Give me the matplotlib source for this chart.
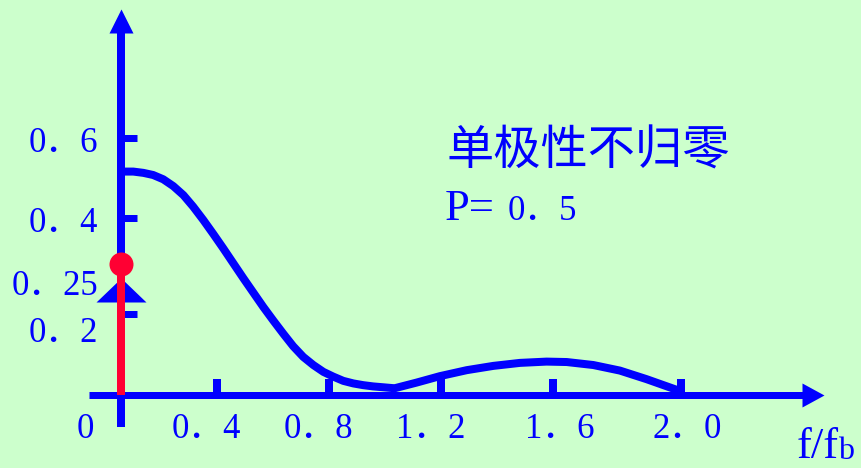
import matplotlib
matplotlib.use("Agg")
import matplotlib.pyplot as plt

# power spectral density of unipolar NRZ (P = 0.5)
# continuous part, main lobe (f/fb, value)
f_main = [0.0, 0.044, 0.080, 0.115, 0.151, 0.187, 0.223, 0.258, 0.294, 0.330,
          0.365, 0.401, 0.437, 0.473, 0.508, 0.544, 0.580, 0.615, 0.651, 0.687,
          0.723, 0.758, 0.794, 0.830, 0.865, 0.901, 0.937, 0.972]
p_main = [0.522, 0.522, 0.519, 0.514, 0.504, 0.488, 0.467, 0.440, 0.409, 0.376,
          0.343, 0.308, 0.273, 0.239, 0.206, 0.174, 0.143, 0.114, 0.089, 0.070,
          0.054, 0.043, 0.033, 0.027, 0.023, 0.020, 0.018, 0.016]
# side lobe
f_side = [0.979, 1.056, 1.139, 1.235, 1.330, 1.425, 1.520, 1.592, 1.687, 1.782,
          1.877, 1.985]
p_side = [0.016, 0.029, 0.044, 0.058, 0.068, 0.075, 0.078, 0.077, 0.070, 0.057,
          0.037, 0.012]

# discrete component at f = 0
delta_f = 0.0
delta_p = 0.306
mark_p = 0.245          # small arrow head marking 0.25

# axis ticks as drawn
xtick_pos = [0.343, 0.743, 1.143, 1.543, 2.0]
xtick_lab = ["0．4", "0．8", "1．2", "1．6", "2．0"]
xlab_pos = [0.304, 0.704, 1.107, 1.568, 2.021]
ytick_pos = [0.189, 0.414, 0.600]
ylab_text = ["0．2", "0．4", "0．25", "0．6"]
ylab_base = [0.124, 0.381, 0.234, 0.568]

title_cn = "单极性不归零"
title_p = "P="
title_pv = "0．5"

BLUE = "#0000ff"
RED = "#ff0033"
BG = "#ccffcc"
SERIF = ["Liberation Serif", "Noto Sans CJK SC", "DejaVu Sans"]

PX = 0.72  # points per pixel at dpi 100

fig = plt.figure(figsize=(8.61, 4.68), dpi=100)
fig.patch.set_facecolor(BG)
ax = fig.add_axes([0, 0, 1, 1])
ax.set_facecolor(BG)
ax.set_xlim(-0.432, 2.643)
ax.set_ylim(-0.1706, 0.9229)
ax.axis("off")

# axes lines with arrow heads
ax.plot([-0.114, 2.45], [0, 0], color=BLUE, lw=7 * PX, solid_capstyle="butt", zorder=2)
ax.plot([0, 0], [-0.075, 0.86], color=BLUE, lw=8 * PX, solid_capstyle="butt", zorder=2)
ax.plot([2.511], [0], marker=[(0, 0), (-22, 12), (-22, -12)], ms=44 * PX,
        color=BLUE, mew=0, zorder=2)
ax.plot([0], [0.902], marker=[(0, 0), (-12, -24), (12, -24)], ms=48 * PX,
        color=BLUE, mew=0, zorder=2)

# ticks
for x in xtick_pos:
    ax.plot([x, x], [0, 0.037], color=BLUE, lw=8 * PX, solid_capstyle="butt", zorder=2)
for y in ytick_pos:
    ax.plot([0, 0.057], [y, y], color=BLUE, lw=7 * PX, solid_capstyle="butt", zorder=2)

# continuous spectrum
ax.plot(f_main + f_side, p_main + p_side, color=BLUE, lw=8 * PX,
        solid_joinstyle="round", solid_capstyle="round", zorder=3)

# 0.25 marker and discrete line
ax.plot([0], [mark_p], marker=[(0, 12), (-25, -12), (25, -12)], ms=50 * PX,
        color=BLUE, mew=0, zorder=4)
ax.plot([delta_f, delta_f], [0, delta_p], color=RED, lw=8 * PX,
        solid_capstyle="butt", zorder=5)
ax.plot([delta_f], [delta_p], "o", color=RED, ms=24 * PX, mew=0, zorder=6)

# tick labels
for x, t in zip(xlab_pos, xtick_lab):
    ax.text(x, -0.100, t, ha="center", va="baseline", color=BLUE,
            fontsize=25, family=SERIF)
ax.text(-0.129, -0.100, "0", ha="center", va="baseline", color=BLUE,
        fontsize=25, family=SERIF)
for y, t in zip(ylab_base, ylab_text):
    ax.text(-0.082, y, t, ha="right", va="baseline", color=BLUE,
            fontsize=25, family=SERIF)

# axis name (nudged up a little so it stays inside the figure)
ax.text(2.414, -0.148, "f/f", ha="left", va="baseline", color=BLUE,
        fontsize=32, family=SERIF)
ax.text(2.562, -0.150, "b", ha="left", va="baseline", color=BLUE,
        fontsize=23, family=SERIF)

# annotation
ax.text(1.164, 0.570, title_cn, ha="left", va="center", color=BLUE,
        fontsize=34, family=["Noto Sans CJK SC", "DejaVu Sans"], weight="light")
ax.text(1.157, 0.409, title_p, ha="left", va="baseline", color=BLUE,
        fontsize=32, family=SERIF)
ax.text(1.382, 0.409, title_pv, ha="left", va="baseline", color=BLUE,
        fontsize=25, family=SERIF)

fig.savefig("out.png", dpi=100, facecolor=BG)
